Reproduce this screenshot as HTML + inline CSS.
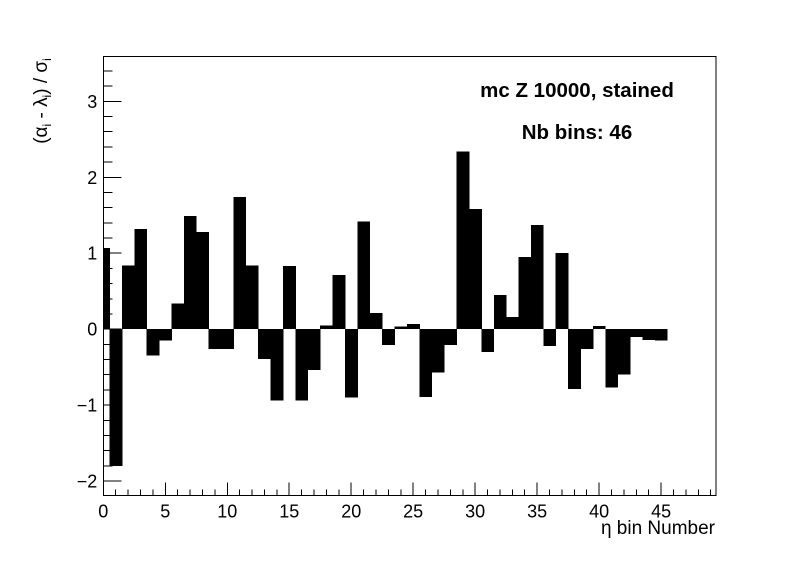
<!DOCTYPE html>
<html><head><meta charset="utf-8"><style>
body{margin:0;background:#fff}
svg{display:block;font-family:"Liberation Sans",Arial,sans-serif}
</style></head><body>
<svg id="c" width="796" height="572" viewBox="0 0 796 572">
<rect x="0" y="0" width="796" height="572" fill="#fff"/>
<g id="bars" shape-rendering="crispEdges"></g>
<g id="axes" shape-rendering="crispEdges"></g>
<rect x="103.3" y="56.5" width="612.7" height="439" fill="none" stroke="#000" stroke-width="1" shape-rendering="crispEdges"/>
<text x="577" y="97" font-size="20.5" font-weight="bold" text-anchor="middle">mc Z 10000, stained</text>
<text x="577" y="139" font-size="20.5" font-weight="bold" text-anchor="middle">Nb bins: 46</text>
<text x="715" y="534" font-size="19" text-anchor="end">η bin Number</text>
<text transform="translate(47,101) rotate(-90)" font-size="19" text-anchor="middle">(α<tspan font-size="12" dy="4">i</tspan><tspan dy="-4"> - λ</tspan><tspan font-size="12" dy="4">i</tspan><tspan dy="-4">) / σ</tspan><tspan font-size="12" dy="4">i</tspan></text>
</svg>
<script>
const binCenters=[0,1,2,3,4,5,6,7,8,9,10,11,12,13,14,15,16,17,18,19,20,21,22,23,24,25,26,27,28,29,30,31,32,33,34,35,36,37,38,39,40,41,42,43,44,45];
const values=[1.07,-1.80,0.84,1.32,-0.35,-0.15,0.34,1.49,1.28,-0.26,-0.26,1.74,0.84,-0.39,-0.94,0.83,-0.94,-0.54,0.05,0.71,-0.90,1.42,0.21,-0.21,0.035,0.07,-0.89,-0.57,-0.21,2.34,1.58,-0.30,0.45,0.16,0.95,1.37,-0.22,1.00,-0.79,-0.26,0.04,-0.77,-0.60,-0.10,-0.14,-0.15];
const xTicks=[0,5,10,15,20,25,30,35,40,45];
const yTicks=[-2,-1,0,1,2,3];
const NS="http://www.w3.org/2000/svg";
const X0=103.3,X1=716,Y0=495.5,Y1=56.5,xmin=0,xmax=49.43,ymin=-2.19,ymax=3.59;
function sx(v){return X0+(v-xmin)/(xmax-xmin)*(X1-X0);}
function sy(v){return Y0-(v-ymin)/(ymax-ymin)*(Y0-Y1);}
function mk(t,a){const e=document.createElementNS(NS,t);for(const k in a)e.setAttribute(k,a[k]);return e;}
const bars=document.getElementById('bars');
binCenters.forEach((c,i)=>{
  const l=Math.max(xmin,c-0.5),r=c+0.5,v=values[i];
  const y=Math.min(sy(v),sy(0)),h=Math.abs(sy(v)-sy(0));
  const e=mk('rect',{x:sx(l),y:y,width:sx(r)-sx(l)+0.4,height:h,fill:'#000'});
  
  
  bars.appendChild(e);
});
const ax=document.getElementById('axes');
for(let v=0;v<=49;v++){
  const maj=v%5===0;
  const e=mk('line',{x1:sx(v),x2:sx(v),y1:Y0,y2:Y0-(maj?13:6),stroke:'#000','stroke-width':1});
  
  
  ax.appendChild(e);
}
xTicks.forEach(v=>{
  const t=mk('text',{x:sx(v),y:Y0+22,'font-size':18,'text-anchor':'middle'});
  t.textContent=v;
  
  
  ax.appendChild(t);
});
for(let k=-10;k<=17;k++){
  const v=k*0.2;if(v<ymin||v>ymax)continue;
  const maj=k%5===0;
  const e=mk('line',{x1:X0,x2:X0+(maj?18:9),y1:sy(v),y2:sy(v),stroke:'#000','stroke-width':1});
  
  
  ax.appendChild(e);
}
yTicks.forEach(v=>{
  const t=mk('text',{x:X0-6,y:sy(v)+6.5,'font-size':18,'text-anchor':'end'});
  t.textContent=v<0?'\u2212'+(-v):v;
  
  
  ax.appendChild(t);
});
</script>
</body></html>
